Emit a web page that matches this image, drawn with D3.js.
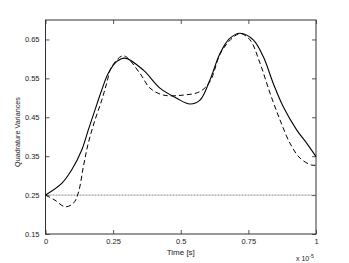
<!DOCTYPE html>
<html>
<head>
<meta charset="utf-8">
<script src="https://cdn.jsdelivr.net/npm/d3@7"></script>
<style>
  body { margin: 0; background: #fff; }
  text { font-family: "Liberation Sans", Arial, sans-serif; fill: #222; }
</style>
</head>
<body>
<svg></svg>
<script>
// time in units of 1e-5 s
let solidT = [0, 0.06, 0.097, 0.134, 0.158, 0.183, 0.208, 0.232, 0.263, 0.294, 0.362, 0.423, 0.485, 0.534, 0.571, 0.608, 0.645, 0.68, 0.719, 0.768, 0.805, 0.842, 0.879, 0.929, 0.966, 1];
let solidV = [0.25, 0.280, 0.315, 0.366, 0.417, 0.469, 0.52, 0.563, 0.593, 0.602, 0.571, 0.525, 0.499, 0.484, 0.494, 0.546, 0.614, 0.652, 0.666, 0.649, 0.606, 0.537, 0.477, 0.417, 0.383, 0.349];

let dashT = [0, 0.035, 0.072, 0.103, 0.121, 0.14, 0.158, 0.183, 0.208, 0.226, 0.245, 0.288, 0.349, 0.386, 0.436, 0.509, 0.571, 0.608, 0.646, 0.685, 0.72, 0.756, 0.793, 0.83, 0.867, 0.904, 0.941, 0.984, 1];
let dashV = [0.25, 0.237, 0.220, 0.229, 0.255, 0.323, 0.383, 0.443, 0.494, 0.537, 0.580, 0.608, 0.563, 0.525, 0.507, 0.507, 0.516, 0.542, 0.613, 0.650, 0.665, 0.649, 0.589, 0.512, 0.443, 0.383, 0.345, 0.327, 0.327];

let refLevel = 0.25;
let xTicks = [0, 0.25, 0.5, 0.75, 1];
let yTicks = [0.15, 0.25, 0.35, 0.45, 0.55, 0.65];

const width = 349, height = 263;
const plot = {left: 45.5, right: 316, top: 20, bottom: 234};

let svg = d3.select('svg')
    .attr('width', width)
    .attr('height', height);

let xScale = d3.scaleLinear().domain([0, 1]).range([plot.left, plot.right]);
let yScale = d3.scaleLinear().domain([0.15, 0.7]).range([plot.bottom, plot.top]);

//Axes with inward ticks
let tl = 4;
svg.append('g')
    .attr('transform', `translate(0,${plot.bottom})`)
    .call(d3.axisBottom(xScale).tickValues(xTicks).tickSizeInner(-tl).tickSizeOuter(0).tickPadding(5).tickFormat(d3.format('')))
svg.append('g')
    .attr('transform', `translate(0,${plot.top})`)
    .call(d3.axisTop(xScale).tickValues(xTicks).tickSizeInner(-tl).tickSizeOuter(0).tickFormat(''))
svg.append('g')
    .attr('transform', `translate(${plot.left},0)`)
    .call(d3.axisLeft(yScale).tickValues(yTicks).tickSizeInner(-tl).tickSizeOuter(0).tickPadding(6).tickFormat(d3.format('.2f')))
svg.append('g')
    .attr('transform', `translate(${plot.right},0)`)
    .call(d3.axisRight(yScale).tickValues(yTicks).tickSizeInner(-tl).tickSizeOuter(0).tickFormat(''))

svg.selectAll('.domain').remove();
svg.selectAll('.tick line').attr('stroke', '#555');
svg.selectAll('.tick text').style('font-size', '7.5px').attr('fill', '#222');

//Frame
svg.append('rect')
    .attr('x', plot.left).attr('y', plot.top)
    .attr('width', plot.right - plot.left).attr('height', plot.bottom - plot.top)
    .attr('fill', 'none').attr('stroke', '#333').attr('stroke-width', 1);

//Reference level
svg.append('line')
    .attr('x1', xScale(0)).attr('x2', xScale(1))
    .attr('y1', yScale(refLevel)).attr('y2', yScale(refLevel))
    .attr('stroke', '#888').attr('stroke-width', 1)
    .attr('stroke-dasharray', '1,0.5');

let line = d3.line()
    .x(d => xScale(d[0]))
    .y(d => yScale(d[1]))
    .curve(d3.curveCatmullRom);

svg.append('path')
    .datum(solidT.map((t, i) => [t, solidV[i]]))
    .attr('d', line)
    .attr('fill', 'none').attr('stroke', '#000').attr('stroke-width', 1.1);

svg.append('path')
    .datum(dashT.map((t, i) => [t, dashV[i]]))
    .attr('d', line)
    .attr('fill', 'none').attr('stroke', '#000').attr('stroke-width', 1)
    .attr('stroke-dasharray', '5,3');

//Labels
svg.append('text')
    .text('Time [s]')
    .attr('x', (plot.left + plot.right) / 2)
    .attr('y', 255)
    .attr('text-anchor', 'middle')
    .style('font-size', '8px');

svg.append('text')
    .attr('transform', `translate(20,132) rotate(-90)`)
    .attr('text-anchor', 'middle')
    .style('font-size', '7.2px')
    .text('Quadrature Variances');

let exp = svg.append('text')
    .attr('x', 296)
    .attr('y', 261)
    .style('font-size', '7px');
exp.append('tspan').text('x 10');
exp.append('tspan').text('-5').attr('dy', -3).style('font-size', '5px');
</script>
</body>
</html>
